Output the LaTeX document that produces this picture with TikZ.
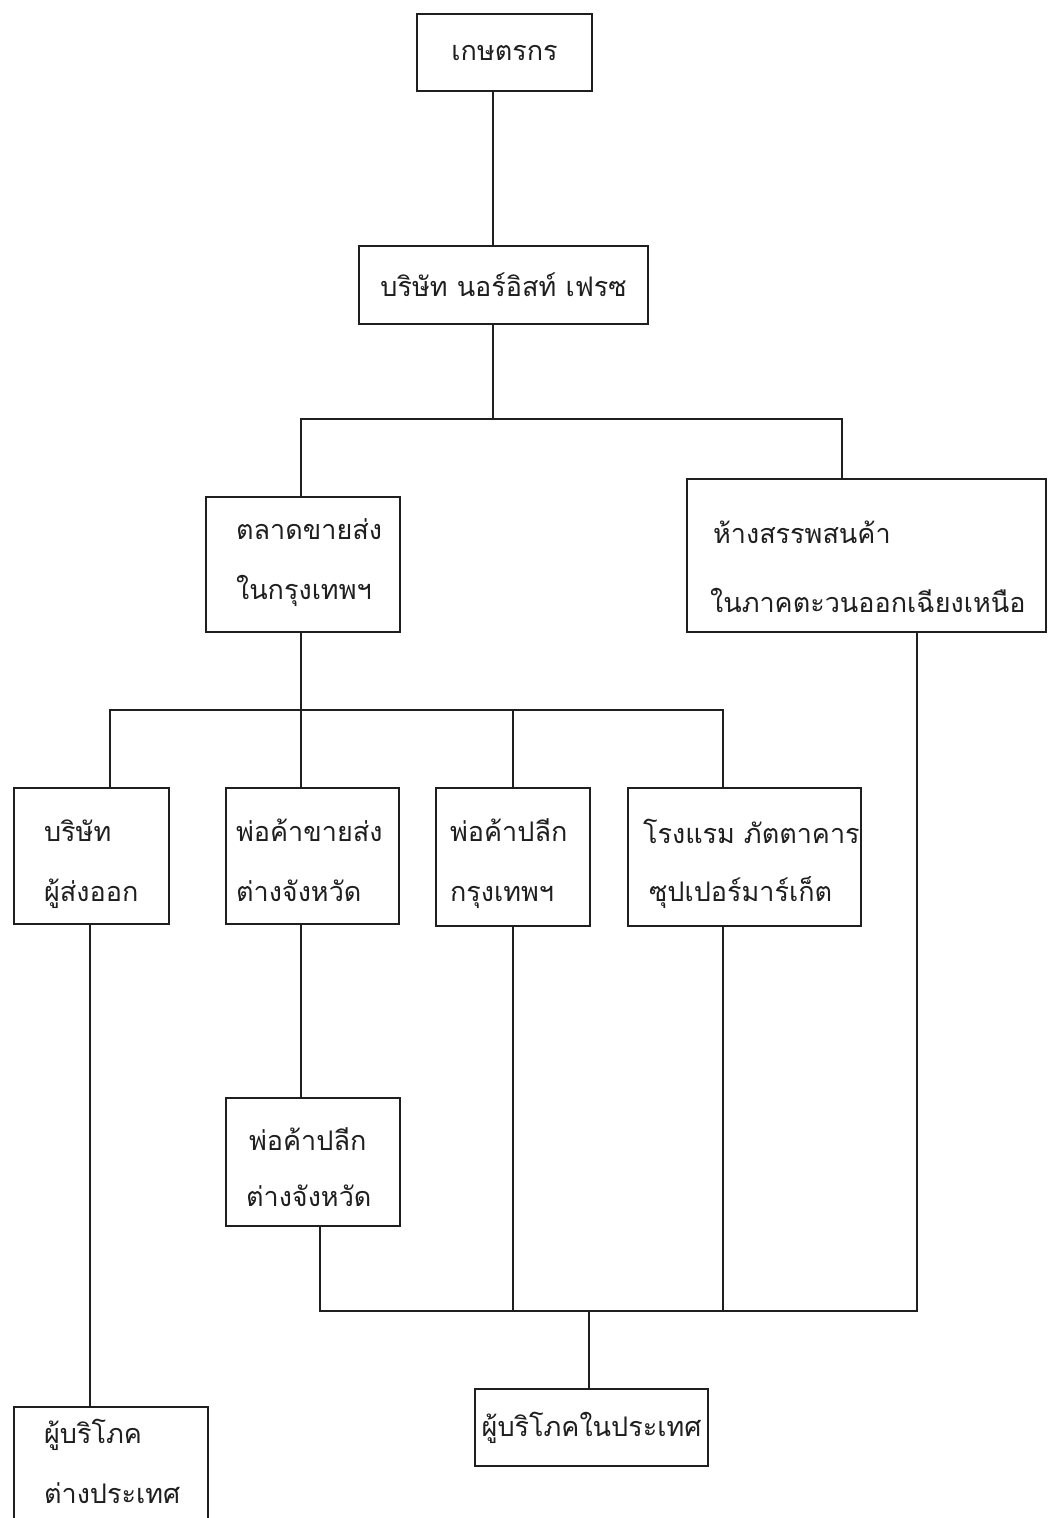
\documentclass[tikz,border=0pt]{standalone}
\usepackage{fontspec}
\newfontfamily\thaifont[Script=Thai]{Loma}
\definecolor{ink}{gray}{0.12}
% two left-aligned lines: {height strut}{depth strut}{indent1}{line1}{indent2}{line2}{extra gap}
\newcommand\twolines[7]{\rule{0pt}{#1pt}\hspace*{#3pt}#4\\[#7pt]\hspace*{#5pt}#6\rule[-#2pt]{0pt}{#2pt}}
\begin{document}
\begin{tikzpicture}[x=1pt,y=-1pt,
  box/.style={draw=ink, line width=2.2pt, inner sep=0pt, anchor=north west, text=ink,
    font=\thaifont\fontsize{27}{60}\selectfont},
  lbox/.style={box, align=left},
  link/.style={draw=ink, line width=1.7pt, line cap=rect}]
\useasboundingbox (0,0) rectangle (1048,1518);
\clip (0,0) rectangle (1048,1518);
\fill[white] (0,0) rectangle (1048,1518);
% columns and rows
\coordinate (c90) at (90,0);
\coordinate (c110) at (110,0);
\coordinate (c301) at (301,0);
\coordinate (c320) at (320,0);
\coordinate (c493) at (493,0);
\coordinate (c513) at (513,0);
\coordinate (c589) at (589,0);
\coordinate (c723) at (723,0);
\coordinate (c842) at (842,0);
\coordinate (c917) at (917,0);
\coordinate (h1) at (0,419);
\coordinate (h2) at (0,710);
\coordinate (h3) at (0,1311);
% boxes
\node[box, minimum width=175pt, minimum height=77pt] (farmer) at (416,13) {เกษตรกร};
\node[box, minimum width=289pt, minimum height=78pt] (company) at (358,245) {บริษัท นอร์อิสท์ เฟรซ};
\node[lbox, text width=194pt, minimum height=135pt] (market) at (205,496)
  {\twolines{40}{30}{30}{ตลาดขายส่ง}{30}{ในกรุงเทพฯ}{0}};
\node[lbox, text width=359pt, minimum height=135pt] (dept) at (686,478)
  {\twolines{64}{20}{26}{ห้างสรรพสนค้า}{23}{ในภาคตะวนออกเฉียงเหนือ}{9}};
\node[lbox, text width=155pt, minimum height=136pt] (exporter) at (13,787)
  {\twolines{50}{20}{30}{บริษัท}{30}{ผู้ส่งออก}{0}};
\node[lbox, text width=173pt, minimum height=136pt] (wholesale) at (225,787)
  {\twolines{50}{20}{10}{พ่อค้าขายส่ง}{10}{ต่างจังหวัด}{0}};
\node[lbox, text width=154pt, minimum height=138pt] (retailbkk) at (435,787)
  {\twolines{48}{20}{14}{พ่อค้าปลีก}{14}{กรุงเทพฯ}{0}};
\node[lbox, text width=233pt, minimum height=138pt] (hotel) at (627,787)
  {\twolines{50}{20}{15}{โรงแรม~ภัตตาคาร}{21}{ซุปเปอร์มาร์เก็ต}{-2}};
\node[lbox, text width=174pt, minimum height=118pt] (retailprov) at (225,1097)
  {\twolines{52}{20}{23}{พ่อค้าปลีก}{20}{ต่างจังหวัด}{-4}};
\node[lbox, text width=194pt, minimum height=140pt] (foreign) at (13,1406)
  {\twolines{30}{38}{30}{ผู้บริโภค}{30}{ต่างประเทศ}{0}};
\node[box, minimum width=233pt, minimum height=77pt] (domestic) at (474,1388) {ผู้บริโภคในประเทศ};
% connectors
\draw[link] (farmer.south -| c493) -- (company.north -| c493);
\draw[link] (company.south -| c493) -- (c493 |- h1);
\draw[link] (market.north -| c301) -- (c301 |- h1) -- (c842 |- h1) -- (dept.north -| c842);
\draw[link] (market.south -| c301) -- (c301 |- h2);
\draw[link] (exporter.north -| c110) -- (c110 |- h2) -- (c723 |- h2) -- (hotel.north -| c723);
\draw[link] (c301 |- h2) -- (wholesale.north -| c301);
\draw[link] (c513 |- h2) -- (retailbkk.north -| c513);
\draw[link] (exporter.south -| c90) -- (foreign.north -| c90);
\draw[link] (wholesale.south -| c301) -- (retailprov.north -| c301);
\draw[link] (retailprov.south -| c320) -- (c320 |- h3) -- (c917 |- h3) -- (dept.south -| c917);
\draw[link] (retailbkk.south -| c513) -- (c513 |- h3);
\draw[link] (hotel.south -| c723) -- (c723 |- h3);
\draw[link] (c589 |- h3) -- (domestic.north -| c589);
\end{tikzpicture}
\end{document}
